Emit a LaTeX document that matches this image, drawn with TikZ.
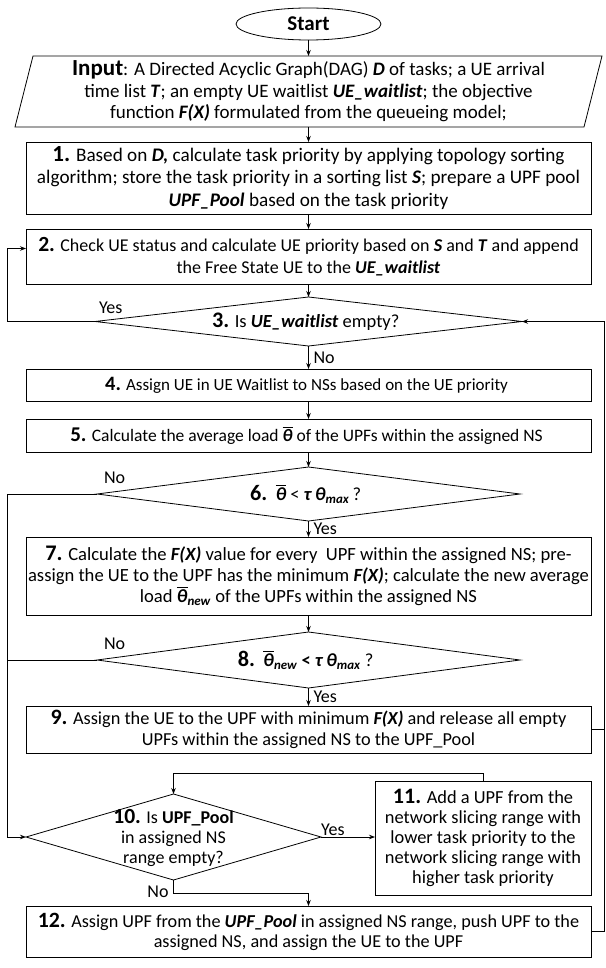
\documentclass[tikz,border=0pt]{standalone}
\usepackage{amsmath}
\usepackage{fontspec}
\setmainfont{Carlito}
\usetikzlibrary{positioning, shapes.geometric, arrows.meta}

\makeatletter
\newcommand{\stepno}[1]{{\fontsize{\fpeval{1.2*\f@size}}{\f@baselineskip}\selectfont\bfseries #1}}
\makeatother
\newcommand{\bitx}[1]{\textbf{\textit{#1}}}
\newcommand{\thbar}{$\overline{\text{\bitx{θ}}}$}
\newcommand{\fsz}[2]{\fontsize{#1}{#2}\selectfont}

\tikzset{
  every node/.style={outer sep=0pt},
  procbox/.style={draw, rectangle, minimum width=565pt, align=center, inner sep=1pt},
  decision/.style={draw, diamond, aspect=8, inner sep=0pt, align=center},
  lbl/.style={inner sep=1pt, font=\fsz{18}{20}},
}

\begin{document}
\begin{tikzpicture}[x=1pt, y=1pt, >={Stealth[length=6pt, width=4.5pt]}, line width=0.8pt,
    font=\fsz{18.5}{21.5}]
        \useasboundingbox (0,0) rectangle (605,-968);

        % Node definitions
        \node (start) [draw, ellipse, minimum width=145pt, minimum height=32pt, inner sep=0pt] at (308.5,-24) {
            \fsz{21}{22}\bfseries Start
        };

        \node (in) [rectangle, minimum width=569pt, minimum height=71pt, inner sep=1pt, align=center,
            font=\fsz{19}{21.5}, below=16pt of start] {
            {\fsz{23}{21.5}\bfseries Input}: A Directed Acyclic Graph(DAG) \bitx{D} of tasks; a UE arrival\\
            time list \bitx{T}; an empty UE waitlist \bitx{UE\_waitlist}; the objective\\
            function \bitx{F(X)} formulated from the queueing model;
        };
        \draw ([xshift=9pt]in.north west) -- ([xshift=9pt]in.north east)
            -- ([xshift=-9pt]in.south east) -- ([xshift=-9pt]in.south west) -- cycle;

        \node (b1) [procbox, minimum height=72pt, font=\fsz{19.2}{22.5}, below=15pt of in] {
            \stepno{1.} Based on \bitx{D,} calculate task priority by applying topology sorting\\
            algorithm; store the task priority in a sorting list \bitx{S}; prepare a UPF pool\\
            \bitx{UPF\_Pool} based on the task priority
        };

        \node (b2) [procbox, minimum height=55pt, font=\fsz{18}{22.5}, below=15pt of b1] {
            \stepno{2.} Check UE status and calculate UE priority based on \bitx{S} and \bitx{T} and append\\
            the Free State UE to the \bitx{UE\_waitlist}
        };

        \node (d3) [decision, minimum width=427pt, minimum height=49pt, below=13pt of b2] {
            \stepno{3.} Is \bitx{UE\_waitlist} empty?
        };

        \node (b4) [procbox, minimum height=32pt, font=\fsz{17}{21.5}, below=23pt of d3] {
            \stepno{4.} Assign UE in UE Waitlist to NSs based on the UE priority
        };

        \node (b5) [procbox, minimum height=33pt, font=\fsz{17.5}{21.5}, below=18pt of b4] {
            \stepno{5.} Calculate the average load \thbar{} of the UPFs within the assigned NS
        };

        \node (d6) [decision, minimum width=423pt, minimum height=54pt, below=15pt of b5] {
            \stepno{6.}\ \ \thbar{} < \bitx{τ}\,\bitx{θ}\textsubscript{\bitx{max}}\,?
        };

        \node (b7) [procbox, minimum height=78pt, font=\fsz{18.6}{21}, below=16pt of d6] {
            \stepno{7.} Calculate the \bitx{F(X)} value for every\ \ UPF within the assigned NS; pre-\\
            assign the UE to the UPF has the minimum \bitx{F(X)}; calculate the new average\\
            load \thbar\textsubscript{\bitx{new}} of the UPFs within the assigned NS
        };

        \node (d8) [decision, minimum width=423pt, minimum height=56pt, below=17pt of b7] {
            \stepno{8.}\ \ \thbar\textsubscript{\bitx{new}} \textbf{<} \bitx{τ}\,\bitx{θ}\textsubscript{\bitx{max}} ?
        };

        \node (b9) [procbox, minimum height=47pt, font=\fsz{18.3}{21}, below=18pt of d8] {
            \stepno{9.} Assign the UE to the UPF with minimum \bitx{F(X)} and release all empty\\
            UPFs within the assigned NS to the UPF\_Pool
        };

        \node (d10) [decision, minimum width=295pt, minimum height=86pt, below right=84pt and 0pt of b9.south west, anchor=west] {};
        \node (d10txt) [align=center, inner sep=0pt, font=\fsz{18}{20}] at ([yshift=-1pt]d10.center) {
            \stepno{10.} Is \textbf{UPF\_Pool}\\
            in assigned NS\\
            range empty?
        };

        \node (b11) [draw, rectangle, minimum width=216pt, minimum height=114pt, align=center, inner sep=1pt,
            font=\fsz{18.4}{20}, right=54pt of d10, yshift=-1pt] {
            \stepno{11.} Add a UPF from the\\
            network slicing range with\\
            lower task priority to the\\
            network slicing range with\\
            higher task priority
        };

        \node (b12) [procbox, minimum height=51pt, font=\fsz{18.2}{20}, below=153pt of b9] {
            \stepno{12.} Assign UPF from the \bitx{UPF\_Pool} in assigned NS range, push UPF to the\\
            assigned NS, and assign the UE to the UPF
        };

        \coordinate (lft) at (7,0);
        \coordinate (rgt) at (604,0);

        % Connecting lines
        \draw[->] (start) -- (in);
        \draw[->] (in) -- (b1);
        \draw[->] (b1) -- (b2);
        \draw[->] (b2) -- (d3);
        \draw[->] (d3) -- node[lbl, right, xshift=4pt] {No} (b4);
        \draw[->] (b4) -- (b5);
        \draw[->] (b5) -- (d6);
        \draw[->] (d6) -- node[lbl, right, xshift=4pt] {Yes} (b7);
        \draw[->] (b7) -- (d8);
        \draw[->] (d8) -- node[lbl, right, xshift=4pt] {Yes} (b9);

        % Loops on the left
        \draw[->] (d3.west) -- (d3.west -| lft) |- ([yshift=8pt]b2.west);
        \node (yes3) [lbl, above right=7pt and 3pt of d3.west] {Yes};
        \draw[->] (d6.west) -- (d6.west -| lft) |- (d10.west);
        \node (no6) [lbl, above right=9pt and 6pt of d6.west] {No};
        \draw (d8.west) -- (d8.west -| lft);
        \node (no8) [lbl, above right=9pt and 6pt of d8.west] {No};

        % Step 10 and 11
        \draw[->] (d10.east) -- node[lbl, above, pos=0.22] {Yes} (d10.east -| b11.west);
        \draw[->] (b11.north) -- ++(0,8) -| (d10.north);
        \draw[->] (d10.south) -- ++(0,-13) node[lbl, midway, left, xshift=-4pt, yshift=-5pt] {No} -| (b12.north);

        % Back to step 3 on the right
        \draw[->] (b12.east) -- (b12.east -| rgt) |- (d3.east);
        \draw (b9.east) -- (b9.east -| rgt);
    \end{tikzpicture}
\end{document}
